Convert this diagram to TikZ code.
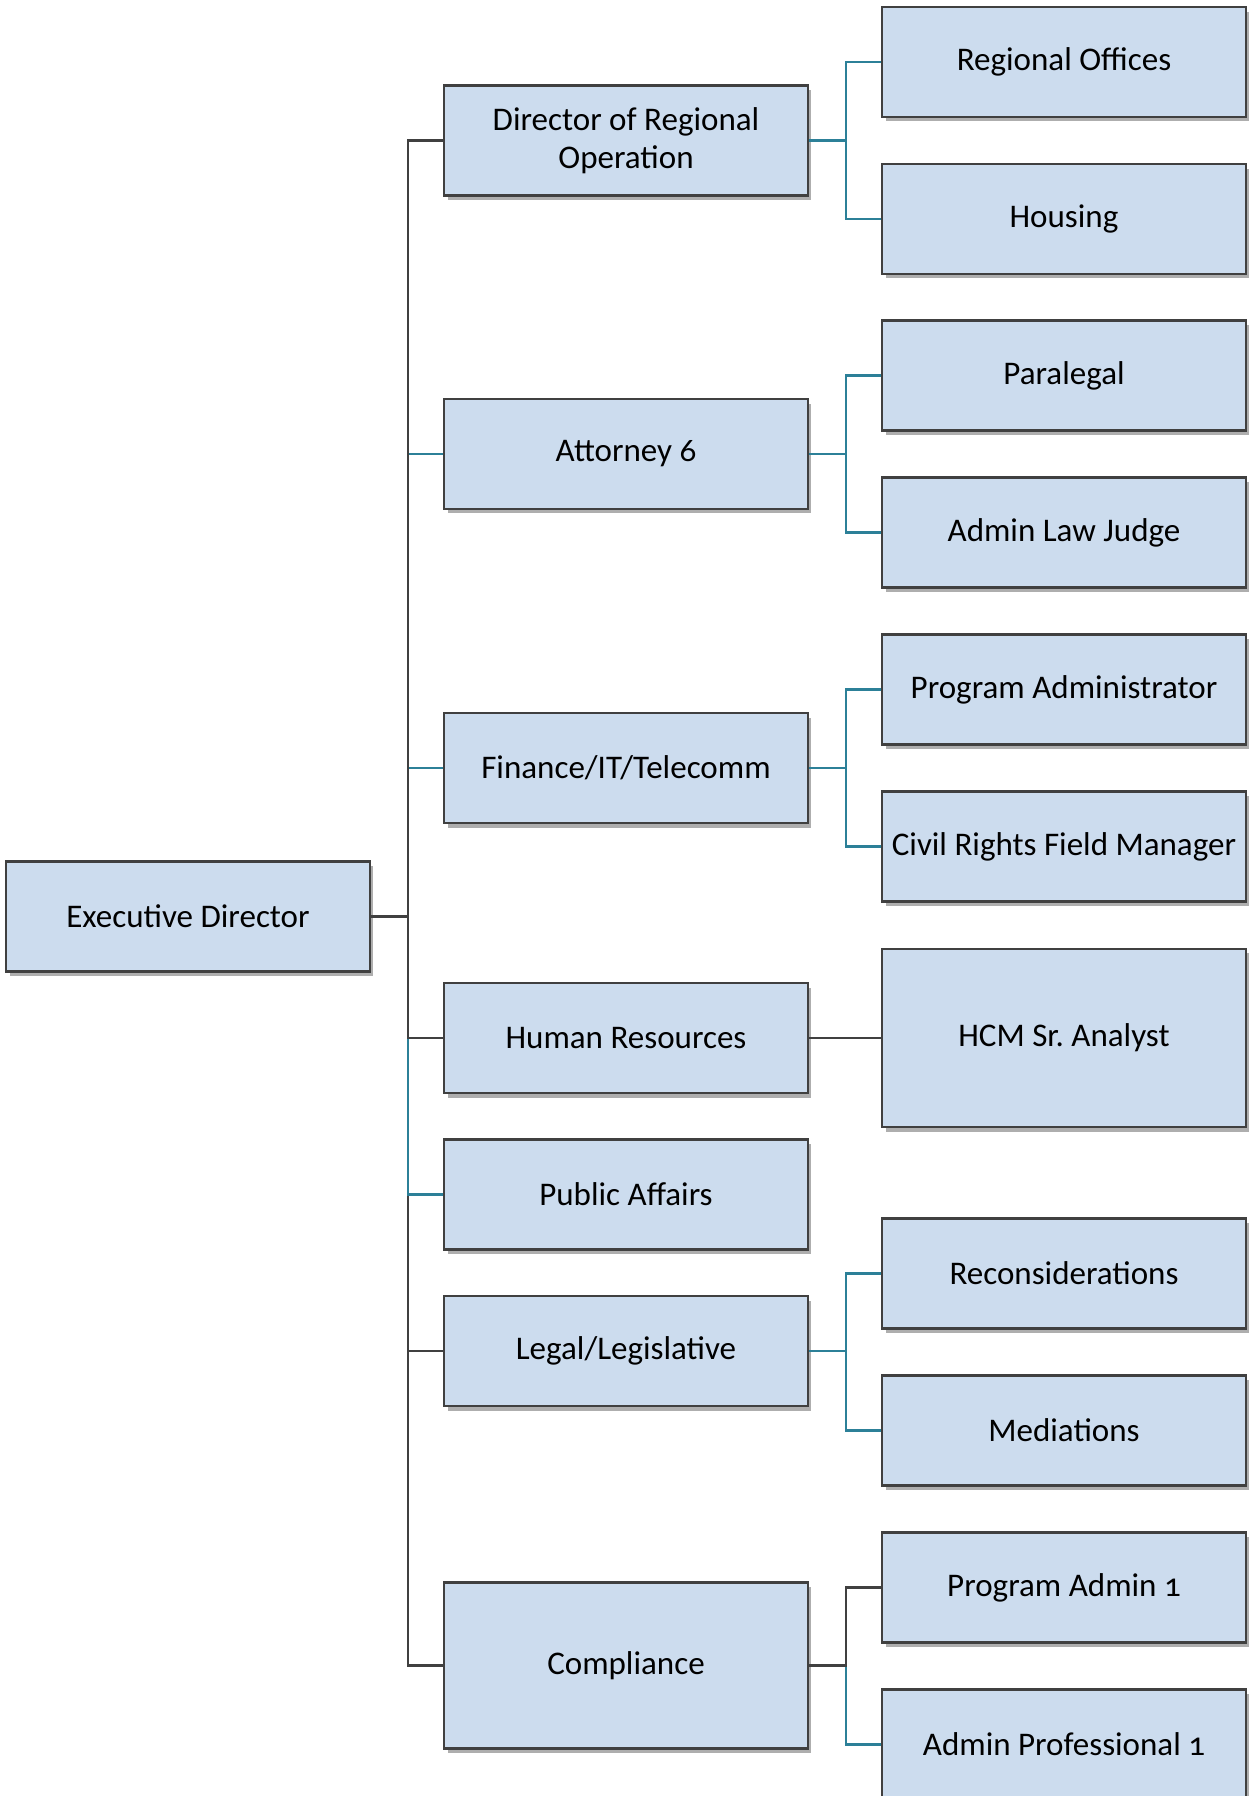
\documentclass[tikz,border=0pt]{standalone}
\usepackage{fontspec}
\setmainfont[Numbers=OldStyle]{Carlito}
\usetikzlibrary{shadows}
\definecolor{boxfill}{RGB}{204,220,238}
\definecolor{boxline}{RGB}{64,64,64}
\definecolor{tealline}{RGB}{44,128,152}
\begin{document}
\begin{tikzpicture}[x=0.02cm, y=-0.02cm,
    unit/.style={draw=boxline, line width=1.3pt, fill=boxfill, align=center,
      font=\fontsize{18.8}{21.8}\selectfont, minimum width=7.28cm, minimum height=2.2cm,
      inner sep=2pt, drop shadow={shadow xshift=0.07cm, shadow yshift=-0.09cm, opacity=0.45, fill=black!70}},
    darklink/.style={draw=boxline, line width=1.3pt},
    teallink/.style={draw=tealline, line width=1.3pt}]
    \useasboundingbox (0,0) rectangle (1254,1796);
    \node[unit] (ed) at (188,916.5) {Executive Director};
    \node[unit] (dir) at (626,140.5) {Director of Regional\\Operation};
    \node[unit] (att) at (626,454) {Attorney 6};
    \node[unit] (fin) at (626,768) {Finance/IT/Telecomm};
    \node[unit] (hr) at (626,1038) {Human Resources};
    \node[unit] (pa) at (626,1194.5) {Public Affairs};
    \node[unit] (leg) at (626,1351) {Legal/Legislative};
    \node[unit, minimum height=3.32cm] (comp) at (626,1665.5) {Compliance};
    \node[unit] (reg) at (1064,62) {Regional Offices};
    \node[unit] (hous) at (1064,219) {Housing};
    \node[unit] (para) at (1064,375.5) {Paralegal};
    \node[unit] (alj) at (1064,532.5) {Admin Law Judge};
    \node[unit] (padm) at (1064,689.5) {Program Administrator};
    \node[unit] (civ) at (1064,846.5) {Civil Rights Field Manager};
    \node[unit, minimum height=3.57cm] (hcm) at (1064,1038) {HCM Sr.\ Analyst};
    \node[unit] (recon) at (1064,1273.5) {Reconsiderations};
    \node[unit] (med) at (1064,1430.5) {Mediations};
    \node[unit] (pa1) at (1064,1587.5) {Program Admin 1};
    \node[unit] (apro) at (1064,1744.5) {Admin Professional 1};
    \draw[teallink] (ed.east) -- ++(37,0) |- (att.west);
    \draw[teallink] (ed.east) -- ++(37,0) |- (fin.west);
    \draw[darklink] (ed.east) -- ++(37,0) |- (comp.west);
    \draw[darklink] (ed.east) -- ++(37,0) |- (leg.west);
    \draw[teallink] (ed.east) -- ++(37,0) |- (pa.west);
    \draw[darklink] (ed.east) -- ++(37,0) |- (hr.west);
    \draw[darklink] (ed.east) -- ++(37,0) |- (dir.west);
    \draw[teallink] (dir.east) -- ++(37,0) |- (reg.west);
    \draw[teallink] (dir.east) -- ++(37,0) |- (hous.west);
    \draw[teallink] (att.east) -- ++(37,0) |- (para.west);
    \draw[teallink] (att.east) -- ++(37,0) |- (alj.west);
    \draw[teallink] (fin.east) -- ++(37,0) |- (padm.west);
    \draw[teallink] (fin.east) -- ++(37,0) |- (civ.west);
    \draw[darklink] (hr.east) -- (hcm.west);
    \draw[teallink] (leg.east) -- ++(37,0) |- (recon.west);
    \draw[teallink] (leg.east) -- ++(37,0) |- (med.west);
    \draw[teallink] (comp.east) -- ++(37,0) |- (apro.west);
    \draw[darklink] (comp.east) -- ++(37,0) |- (pa1.west);
  \end{tikzpicture}
\end{document}
